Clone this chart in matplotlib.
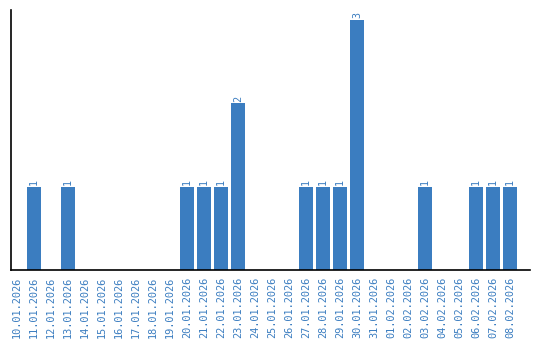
import matplotlib
matplotlib.use("Agg")
import matplotlib.pyplot as plt

dates = ["10.01.2026", "11.01.2026", "12.01.2026", "13.01.2026", "14.01.2026",
         "15.01.2026", "16.01.2026", "17.01.2026", "18.01.2026", "19.01.2026",
         "20.01.2026", "21.01.2026", "22.01.2026", "23.01.2026", "24.01.2026",
         "25.01.2026", "26.01.2026", "27.01.2026", "28.01.2026", "29.01.2026",
         "30.01.2026", "31.01.2026", "01.02.2026", "02.02.2026", "03.02.2026",
         "04.02.2026", "05.02.2026", "06.02.2026", "07.02.2026", "08.02.2026"]
counts = [0, 1, 0, 1, 0, 0, 0, 0, 0, 0, 1, 1, 1, 2, 0, 0, 0, 1, 1, 1, 3, 0, 0, 0, 1, 0, 0, 1, 1, 1]

blue = "#3b7dc0"
fig = plt.figure(figsize=(5.4, 3.4), dpi=100)
ax = fig.add_axes([11/540, 70/340, 519/540, 260/340])
x = list(range(len(dates)))
ax.bar(x, counts, width=0.82, color=blue)
for xi, c in zip(x, counts):
    if c > 0:
        ax.text(xi, c + 0.02, str(c), rotation=90, ha="center", va="bottom",
                color=blue, fontsize=7.3, family="DejaVu Sans Mono")
ax.set_xlim(-0.35, 30.18)
ax.set_ylim(0, 3.12)
ax.set_xticks(x)
ax.set_xticklabels(dates, rotation=90, color=blue, fontsize=7.4, family="DejaVu Sans Mono")
ax.tick_params(axis="x", length=0, pad=5)
ax.set_yticks([])
for s in ["top", "right"]:
    ax.spines[s].set_visible(False)
for s in ["left", "bottom"]:
    ax.spines[s].set_color("black")
    ax.spines[s].set_linewidth(1.2)
fig.savefig("out.png", dpi=100)
